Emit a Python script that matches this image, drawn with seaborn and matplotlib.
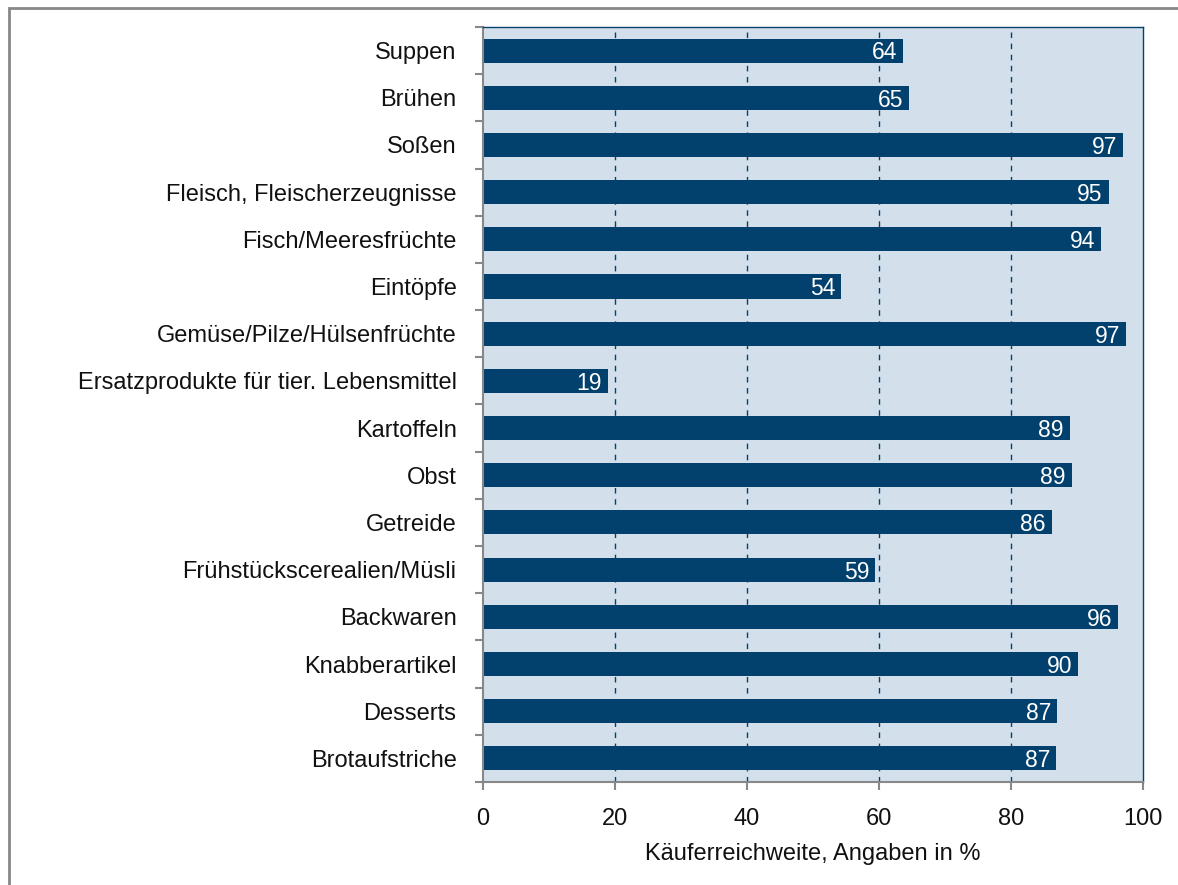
import numpy as np
import pandas as pd
import matplotlib
matplotlib.use('Agg')
import matplotlib.pyplot as plt
import seaborn as sns
from matplotlib.patches import Rectangle

# Data
categories = ['Suppen', 'Brühen', 'Soßen', 'Fleisch, Fleischerzeugnisse', 'Fisch/Meeresfrüchte',
              'Eintöpfe', 'Gemüse/Pilze/Hülsenfrüchte', 'Ersatzprodukte für tier. Lebensmittel',
              'Kartoffeln', 'Obst', 'Getreide', 'Frühstückscerealien/Müsli', 'Backwaren',
              'Knabberartikel', 'Desserts', 'Brotaufstriche']
bar_values = [63.7, 64.6, 97.0, 94.8, 93.6, 54.3, 97.4, 18.9, 88.9, 89.2, 86.2, 59.4, 96.2, 90.2, 87.0, 86.8]
labels = ['64', '65', '97', '95', '94', '54', '97', '19', '89', '89', '86', '59', '96', '90', '87', '87']
xticks = [0, 20, 40, 60, 80, 100]

df = pd.DataFrame({'Kategorie': categories, 'Wert': bar_values})

sns.set_style('white')
plt.rcParams['font.family'] = ['Liberation Sans Narrow', 'Liberation Sans', 'DejaVu Sans']

bar_color = '#02406d'
bg_color = '#d3e0ec'
text_color = '#111111'

fig = plt.figure(figsize=(11.78, 8.85), dpi=100)
ax = fig.add_axes([0.41, 0.1164, 0.5603, 0.8531])
ax.set_facecolor(bg_color)

sns.barplot(data=df, x='Wert', y='Kategorie', orient='h', color=bar_color,
            width=0.51, ax=ax, saturation=1, edgecolor='none')

ax.set_xlim(0, 100)
ax.set_ylim(len(categories) - 0.5, -0.5)
ax.set_xticks(xticks)
ax.set_xticklabels([str(t) for t in xticks], fontsize=17, color=text_color)
ax.set_xlabel('Käuferreichweite, Angaben in %', fontsize=17, labelpad=9, color=text_color)
ax.set_ylabel('')
for t in ax.get_yticklabels():
    t.set_color(text_color)
ax.tick_params(axis='y', which='major', left=False, length=0, labelsize=17, pad=19)
ax.set_yticks(np.arange(-0.5, len(categories), 1), minor=True)
ax.tick_params(axis='y', which='minor', left=True, length=6, color='#888888', width=1.5, direction='out')
ax.tick_params(axis='x', which='major', bottom=True, length=6, color='#888888', width=1.5,
               direction='out', pad=13)

for x in xticks[1:-1]:
    ax.axvline(x, color=bar_color, linestyle=(0, (4, 4)), linewidth=1, zorder=0.5)

for i, (v, lab) in enumerate(zip(bar_values, labels)):
    ax.text(v - 0.9, i + 0.05, lab, color='white', ha='right', va='center', fontsize=16.5)

for side in ['left', 'bottom']:
    ax.spines[side].set_color('#888888')
    ax.spines[side].set_linewidth(1.5)
for side in ['top', 'right']:
    ax.spines[side].set_color(bar_color)
    ax.spines[side].set_linewidth(1)

# grey frame around the whole figure
fig.patches.append(Rectangle((0.0075, -0.01), 1.1, 1.001, transform=fig.transFigure,
                             fill=False, edgecolor='#888888', linewidth=2))

fig.savefig('out.png', dpi=100)
